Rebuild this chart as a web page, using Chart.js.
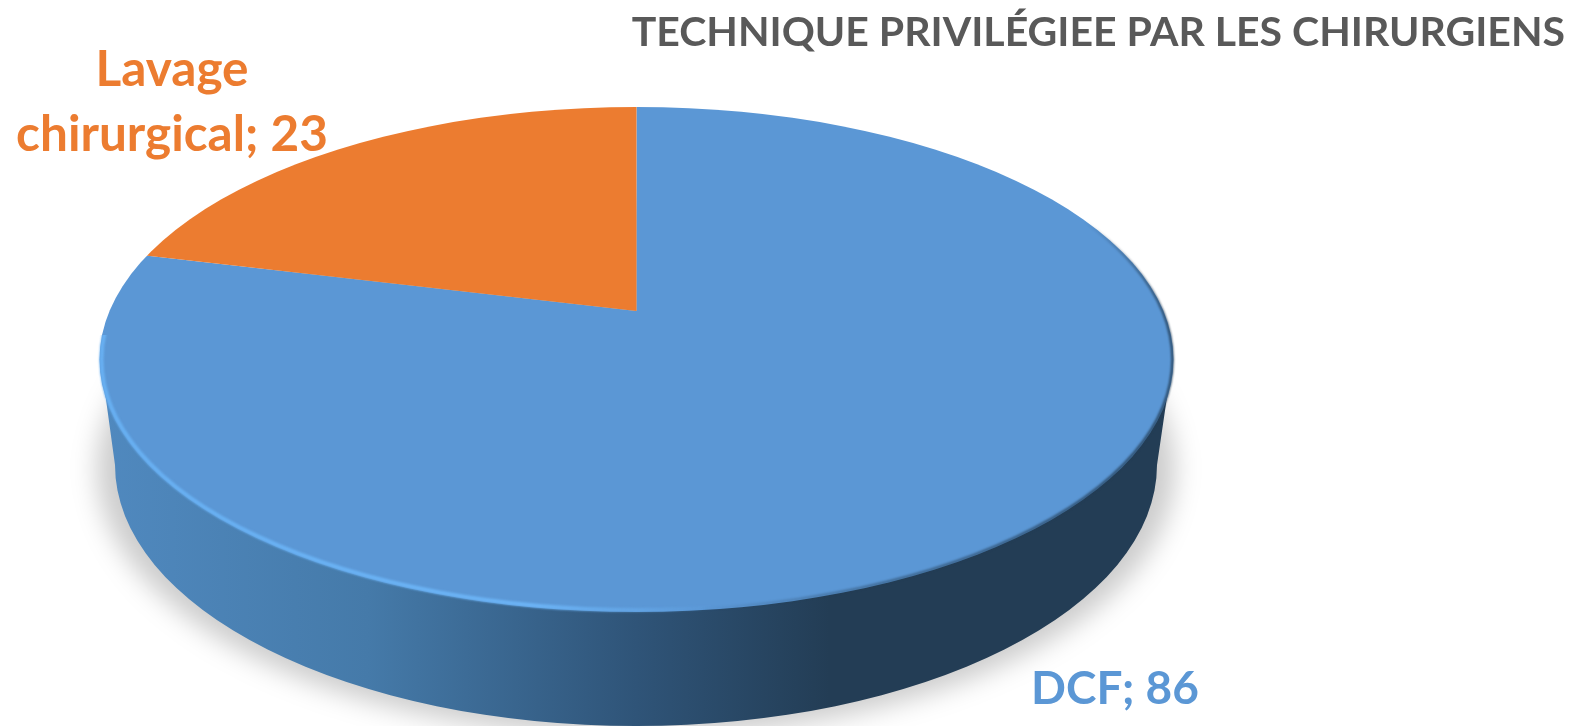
<!DOCTYPE html>
<html>
<head>
<meta charset="utf-8">
<title>Technique privilégiee</title>
<script src="https://cdn.jsdelivr.net/npm/chart.js@4/dist/chart.umd.min.js"></script>
<style>
  html, body { margin: 0; padding: 0; background: #fff; }
  canvas { display: block; }
</style>
</head>
<body>
<canvas id="myChart" width="1573" height="726"></canvas>
<script>
const chartTitle = 'TECHNIQUE PRIVILÉGIEE PAR LES CHIRURGIENS';
const categories = ['DCF', 'Lavage chirurgical'];
const values = [86, 23];
const sliceColors = ['#5B97D5', '#EC7C30'];

// the look of the 3D disc
const top3d = { x: 636.5, y: 359.5, rx: 537, ry: 252.5 };
const bottom3d = { x: 636, y: 465, rx: 521, ry: 261 };
const apex = { x: 636.5, y: 311 };
const spread = { x: 900, y: 407 };
const labelStyle = [
    { lines: 1, x: 1115, y: 704, size: 46 },
    { lines: 2, x: 172, y: 86, lineHeight: 65, size: 49.5 }
];

function topPath(ctx) {
    ctx.beginPath();
    ctx.ellipse(top3d.x, top3d.y, top3d.rx, top3d.ry, 0, 0, Math.PI * 2);
}

function strokeEdge(ctx, color, width, inset, box) {
    ctx.save();
    ctx.beginPath();
    ctx.rect(box[0], box[1], box[2], box[3]);
    ctx.clip();
    ctx.filter = 'blur(1px)';
    ctx.strokeStyle = color;
    ctx.lineWidth = width;
    ctx.beginPath();
    ctx.ellipse(top3d.x, top3d.y, top3d.rx - inset, top3d.ry - inset, 0, 0, Math.PI * 2);
    ctx.stroke();
    ctx.restore();
}

const disc = {
    id: 'disc',
    beforeDatasetsDraw(chart) {
        const ctx = chart.ctx;

        // soft shadow under the disc
        ctx.save();
        ctx.filter = 'blur(13px)';
        ctx.fillStyle = 'rgba(0,0,0,0.2)';
        ctx.beginPath();
        ctx.ellipse(bottom3d.x, bottom3d.y + 4, bottom3d.rx + 18, bottom3d.ry + 6, 0, 0, Math.PI * 2);
        ctx.fill();
        ctx.restore();

        // side wall
        const wall = ctx.createLinearGradient(top3d.x - top3d.rx, 0, top3d.x + top3d.rx, 0);
        wall.addColorStop(0, '#5089BF');
        wall.addColorStop(0.25, '#457AA9');
        wall.addColorStop(0.5, '#2F5478');
        wall.addColorStop(0.68, '#233D55');
        wall.addColorStop(1, '#233D55');
        ctx.save();
        ctx.fillStyle = wall;
        ctx.beginPath();
        ctx.moveTo(top3d.x - top3d.rx + 1, top3d.y);
        ctx.lineTo(bottom3d.x - bottom3d.rx, bottom3d.y);
        ctx.ellipse(bottom3d.x, bottom3d.y, bottom3d.rx, bottom3d.ry, 0, Math.PI, 0, true);
        ctx.lineTo(top3d.x + top3d.rx - 1, top3d.y);
        ctx.closePath();
        ctx.fill();
        ctx.restore();

        // slices: squashed around the apex and cut to the top face
        const arc = chart.getDatasetMeta(0).data[0];
        ctx.save();
        topPath(ctx);
        ctx.clip();
        ctx.translate(apex.x, apex.y);
        ctx.scale(spread.x / arc.outerRadius, spread.y / arc.outerRadius);
        ctx.translate(-arc.x, -arc.y);
    },
    afterDatasetsDraw(chart) {
        const ctx = chart.ctx;
        ctx.restore();

        // light rim, lower left
        const rim = ctx.createLinearGradient(100, 0, 720, 0);
        rim.addColorStop(0, '#68B0F2');
        rim.addColorStop(0.7, '#6CB4F6');
        rim.addColorStop(1, 'rgba(108,180,246,0)');
        strokeEdge(ctx, rim, 4, 2, [90, 335, 640, 300]);

        // dark rim, right side
        const darkLow = ctx.createLinearGradient(700, 0, 1173, 0);
        darkLow.addColorStop(0, 'rgba(35,61,85,0)');
        darkLow.addColorStop(0.4, 'rgba(35,61,85,0.55)');
        darkLow.addColorStop(1, 'rgba(35,61,85,0.9)');
        strokeEdge(ctx, darkLow, 2.5, 1, [700, 360, 480, 260]);

        const darkHigh = ctx.createLinearGradient(1085, 0, 1173, 0);
        darkHigh.addColorStop(0, 'rgba(35,61,85,0)');
        darkHigh.addColorStop(1, 'rgba(35,61,85,0.9)');
        strokeEdge(ctx, darkHigh, 2.5, 1, [1050, 180, 130, 180]);
    },
    afterDraw(chart) {
        // data labels
        const ctx = chart.ctx;
        ctx.save();
        ctx.textAlign = 'center';
        ctx.textBaseline = 'alphabetic';
        categories.forEach((name, i) => {
            const st = labelStyle[i];
            ctx.font = 'bold ' + st.size + 'px Lato';
            ctx.fillStyle = sliceColors[i];
            const text = name + '; ' + values[i];
            if (st.lines == 2) {
                const cut = text.indexOf(' ');
                ctx.fillText(text.slice(0, cut), st.x, st.y);
                ctx.fillText(text.slice(cut + 1), st.x, st.y + st.lineHeight);
            } else {
                ctx.fillText(text, st.x, st.y);
            }
        });
        ctx.restore();
    }
};

new Chart(document.getElementById('myChart'), {
    type: 'pie',
    data: {
        labels: categories,
        datasets: [{
            data: values,
            backgroundColor: sliceColors,
            borderWidth: 0,
            clip: false
        }]
    },
    options: {
        responsive: false,
        animation: false,
        layout: { padding: { top: 8, right: 8 } },
        plugins: {
            legend: { display: false },
            tooltip: { enabled: false },
            title: {
                display: true,
                text: chartTitle,
                align: 'end',
                color: '#595959',
                font: { family: 'Lato', size: 41, weight: 'bold' },
                padding: 0
            }
        }
    },
    plugins: [disc]
});
</script>
</body>
</html>
